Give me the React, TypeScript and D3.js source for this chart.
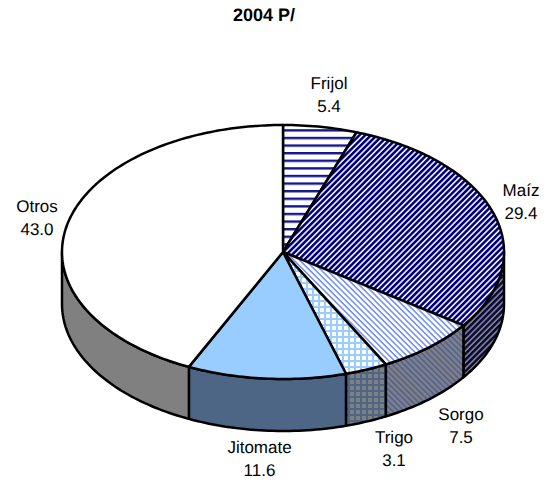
import React from "react";
import * as d3 from "d3";

const width = 547;
const height = 483;
const title = "2004 P/";
const categories = ["Frijol", "Maíz", "Sorgo", "Trigo", "Jitomate", "Otros"];
const values = [5.4, 29.4, 7.5, 3.1, 11.6, 43.0];
const valueLabels = ["5.4", "29.4", "7.5", "3.1", "11.6", "43.0"];
const topFills = ["url(#frijol)", "url(#maiz)", "url(#sorgo)", "url(#trigo)", "#99ccff", "#ffffff"];
const sideFills = ["#808080", "url(#maizSide)", "url(#sorgoSide)", "url(#trigoSide)", "#4d6686", "#808080"];
const labelX = [329, 521, 461, 394, 259.5, 37];
const labelY = [89, 196, 420, 443, 453, 212];

const depth = 52;
const xScale = d3.scaleLinear().domain([-1, 1]).range([62, 504]);
const yScale = d3.scaleLinear().domain([-1, 1]).range([125, 379]);

const px = (a: number) => xScale(Math.sin(a));
const py = (a: number) => yScale(-Math.cos(a));

const sample = (a0: number, a1: number) => {
  const n = Math.max(2, Math.ceil((a1 - a0) / 0.02));
  return d3.range(n + 1).map(i => a0 + ((a1 - a0) * i) / n);
};

const line = d3.line<[number, number]>();

const pie = d3.pie<number>().sort(null)(values);

const topPath = (a0: number, a1: number) => {
  const pts: [number, number][] = [[xScale(0), yScale(0)]];
  sample(a0, a1).forEach(a => pts.push([px(a), py(a)]));
  return line(pts) + "Z";
};

const sidePath = (a0: number, a1: number) => {
  const arcPts = sample(a0, a1);
  const pts: [number, number][] = arcPts.map(a => [px(a), py(a)]);
  arcPts.reverse().forEach(a => pts.push([px(a), py(a) + depth]));
  return line(pts) + "Z";
};

const Stripes = ({ id, color, bg, angle, size, w }: any) => (
  <pattern id={id} width={size} height={size} patternUnits="userSpaceOnUse" patternTransform={`rotate(${angle})`}>
    <rect width={size} height={size} fill={bg} />
    <rect width={size} height={w} fill={color} />
  </pattern>
);

const Grid = ({ id, color, bg, size, w }: any) => (
  <pattern id={id} width={size} height={size} patternUnits="userSpaceOnUse">
    <rect width={size} height={size} fill={bg} />
    <rect width={size} height={w} fill={color} />
    <rect width={w} height={size} fill={color} />
  </pattern>
);

export default function App() {
  const front = pie
    .map((d, i) => ({
      i,
      a0: Math.max(d.startAngle, Math.PI / 2),
      a1: Math.min(d.endAngle, (3 * Math.PI) / 2),
    }))
    .filter(d => d.a1 > d.a0);

  return (
    <svg
      width={width}
      height={height}
      style={{ position: "absolute", left: 0, top: 0 }}
      fontFamily="'Liberation Sans', Arial, sans-serif"
      textRendering="geometricPrecision"
    >
      <defs>
        <Stripes id="frijol" color="#14148c" bg="#ffffff" angle={0} size={7.6} w={2.4} />
        <Stripes id="maiz" color="#000080" bg="#eeeef8" angle={-45} size={4.1} w={2.5} />
        <Stripes id="sorgo" color="#6f8cf0" bg="#ffffff" angle={45} size={4.1} w={1.5} />
        <Grid id="trigo" color="#99ccff" bg="#ffffff" size={6} w={2} />
        <Stripes id="maizSide" color="#080840" bg="#808080" angle={-45} size={4.1} w={2.4} />
        <Stripes id="sorgoSide" color="#4d5f9c" bg="#808080" angle={45} size={4.1} w={1.5} />
        <Grid id="trigoSide" color="#4d6686" bg="#808080" size={6} w={2} />
      </defs>

      <text x={264} y={21} textAnchor="middle" fontSize={18} fontWeight="bold">
        {title}
      </text>

      <g stroke="#000" strokeWidth={2.5} strokeLinejoin="round">
        {front.map(d => (
          <path key={d.i} d={sidePath(d.a0, d.a1)} fill={sideFills[d.i]} />
        ))}
        {pie.map((d, i) => (
          <path key={i} d={topPath(d.startAngle, d.endAngle)} fill={topFills[i]} />
        ))}
      </g>

      <g fontSize={17} textAnchor="middle" fill="#000">
        {categories.map((c, i) => (
          <text key={c} x={labelX[i]} y={labelY[i]}>
            <tspan x={labelX[i]}>{c}</tspan>
            <tspan x={labelX[i]} dy={23}>{valueLabels[i]}</tspan>
          </text>
        ))}
      </g>
    </svg>
  );
}
